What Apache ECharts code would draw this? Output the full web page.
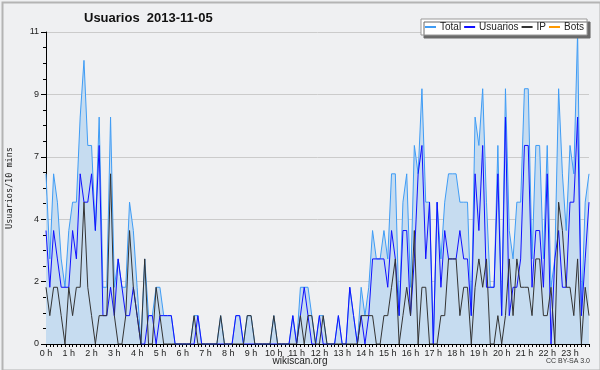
<!DOCTYPE html>
<html>
<head>
<meta charset="utf-8">
<script src="https://cdn.jsdelivr.net/npm/echarts@6/dist/echarts.min.js"></script>
<style>
html,body{margin:0;padding:0;background:#eff0f2;}
#c{width:600px;height:370px;}
</style>
</head>
<body>
<div id="c"></div>
<script>
// Hour tick labels
var hourLabels = ['0 h','1 h','2 h','3 h','4 h','5 h','6 h','7 h','8 h','9 h','10 h','11 h',
  '12 h','13 h','14 h','15 h','16 h','17 h','18 h','19 h','20 h','21 h','22 h','23 h'];
var yTickLabels = [0, 2, 4, 7, 9, 11];

// Series values, one per 10 minutes (144 points)
var totalData = [
  6,3,6,5,3,2,4,5,5,8, 10,7,7,4,8,2,2,8,2,3,
  2,2,5,4,2,0,3,1,1,2, 2,1,1,1,0,0,0,0,0,1,
  1,0,0,0,0,0,1,0,0,0, 1,1,0,1,1,0,0,0,0,0,
  1,0,0,0,0,1,0,2,2,2, 1,0,1,1,0,0,0,1,0,0,
  2,1,0,2,1,2,4,3,3,4, 3,6,6,1,5,6,2,7,6,9,
  5,5,0,5,3,5,6,6,6,5, 5,5,1,8,7,9,5,2,2,7,
  1,9,4,3,5,5,9,9,3,7, 7,3,7,2,3,9,6,4,7,6,
  11,1,5,6
];
var usuariosData = [
  4,2,4,3,2,2,2,4,3,6, 5,5,6,4,7,1,1,2,1,3,
  2,1,1,2,1,0,0,1,1,0, 1,1,1,1,0,0,0,0,0,0,
  1,0,0,0,0,0,0,0,0,0, 1,1,0,0,0,0,0,0,0,0,
  0,0,0,0,0,1,0,1,2,1, 0,0,1,0,0,0,0,1,0,0,
  2,1,0,1,0,1,3,3,3,3, 2,4,3,1,4,4,1,3,6,7,
  3,5,0,5,2,4,3,3,3,4, 3,3,1,6,4,7,2,2,2,6,
  1,8,1,2,2,3,7,7,2,4, 4,2,6,0,3,4,2,2,5,5,
  8,1,3,5
];
var ipData = [
  2,1,2,2,1,0,2,1,2,2, 5,2,1,0,1,1,1,6,1,0,
  0,1,4,2,1,0,3,0,0,2, 1,0,0,0,0,0,0,0,0,1,
  0,0,0,0,0,0,1,0,0,0, 0,0,0,1,1,0,0,0,0,0,
  1,0,0,0,0,0,0,1,0,1, 1,0,0,1,0,0,0,0,0,0,
  0,0,0,1,1,1,1,0,0,1, 1,2,3,0,1,2,1,4,0,2,
  2,0,0,0,1,1,3,3,3,1, 2,2,0,2,3,2,3,0,0,1,
  0,1,3,1,3,2,2,2,1,3, 3,1,1,2,0,5,4,2,2,1,
  3,0,2,1
];
var botsData = [];

var categories = [];
for (var h = 0; h < hourLabels.length; h++) {
  for (var m = 0; m < 6; m++) {
    categories.push(m === 0 ? hourLabels[h] : hourLabels[h].replace(' h','') + ':' + m + '0');
  }
}

var FONT = 'Liberation Sans';
var chart = echarts.init(document.getElementById('c'), null, {renderer: 'canvas'});
chart.setOption({
  animation: false,
  backgroundColor: '#eff0f2',
  title: {
    text: 'Usuarios  2013-11-05',
    left: 84, top: 12, padding: 0,
    textStyle: {fontFamily: FONT, fontSize: 13, fontWeight: 'bold', color: '#111'}
  },
  legend: {
    left: 421, top: 19,
    padding: [3, 3, 3, 4],
    itemGap: 3,
    itemWidth: 11, itemHeight: 2,
    icon: 'rect',
    backgroundColor: '#ffffff',
    borderColor: '#999',
    borderWidth: 1,
    shadowColor: '#6a6a6a',
    shadowBlur: 0,
    shadowOffsetX: 3,
    shadowOffsetY: 3,
    textStyle: {fontFamily: FONT, fontSize: 10, color: '#222', padding: [0, 0, 0, -1]},
    data: ['Total', 'Usuarios', 'IP', 'Bots']
  },
  grid: {left: 46, right: 11, top: 32, bottom: 26, containLabel: false, outerBoundsMode: 'none'},
  xAxis: {
    type: 'category',
    boundaryGap: false,
    data: categories,
    axisLine: {lineStyle: {color: '#000', width: 1}},
    axisTick: {interval: 0, length: 3, lineStyle: {color: '#000'}},
    axisLabel: {
      interval: 5, margin: 5,
      fontFamily: FONT, fontSize: 9, color: '#222',
      formatter: function (v) { return v.indexOf('h') >= 0 ? v : ''; }
    },
    splitLine: {show: false}
  },
  yAxis: {
    type: 'value',
    min: 0, max: 11, interval: 2.2,
    name: 'Usuarios/10 mins',
    nameLocation: 'middle',
    nameRotate: 90,
    nameGap: 32,
    nameMoveOverlap: false,
    nameTextStyle: {fontFamily: 'DejaVu Sans Mono', fontSize: 8.5, color: '#222'},
    axisLine: {show: true, lineStyle: {color: '#000', width: 1}},
    axisTick: {show: true, length: 5, lineStyle: {color: '#000'}},
    minorTick: {show: true, splitNumber: 4, length: 3, lineStyle: {color: '#000'}},
    axisLabel: {
      margin: 7, fontFamily: FONT, fontSize: 9, color: '#222',
      formatter: function (v) {
        var idx = Math.round(v / 2.2);
        return String(yTickLabels[idx] !== undefined ? yTickLabels[idx] : Math.round(v));
      }
    },
    splitLine: {show: true, lineStyle: {color: '#cbcbcb', width: 1}},
    minorSplitLine: {show: false}
  },
  series: [
    {
      name: 'Total', type: 'line', data: totalData,
      symbol: 'none', color: '#3f9cf5',
      lineStyle: {width: 1, color: '#3f9cf5'},
      areaStyle: {color: '#c6dcf0', opacity: 1}
    },
    {
      name: 'Usuarios', type: 'line', data: usuariosData,
      symbol: 'none', color: '#1010ff',
      lineStyle: {width: 1, color: '#1010ff'}
    },
    {
      name: 'IP', type: 'line', data: ipData,
      symbol: 'none', color: '#333333',
      lineStyle: {width: 1, color: '#333333'}
    },
    {
      name: 'Bots', type: 'line', data: botsData,
      symbol: 'none', color: '#ff9900',
      lineStyle: {width: 1, color: '#ff9900'}
    }
  ],
  graphic: [
    {
      type: 'rect', left: 0, top: 0, silent: true, z: 100,
      shape: {x: 1, y: 1, width: 598, height: 368},
      style: {fill: 'none', stroke: '#b4b4b4', lineWidth: 2}
    },
    {
      type: 'text', left: 'center', top: 356,
      style: {text: 'wikiscan.org', fontFamily: FONT, fontSize: 10, fill: '#222'}
    },
    {
      type: 'text', right: 10, top: 358,
      style: {text: 'CC BY-SA 3.0', fontFamily: FONT, fontSize: 7, fill: '#333'}
    }
  ]
});
</script>
</body>
</html>
